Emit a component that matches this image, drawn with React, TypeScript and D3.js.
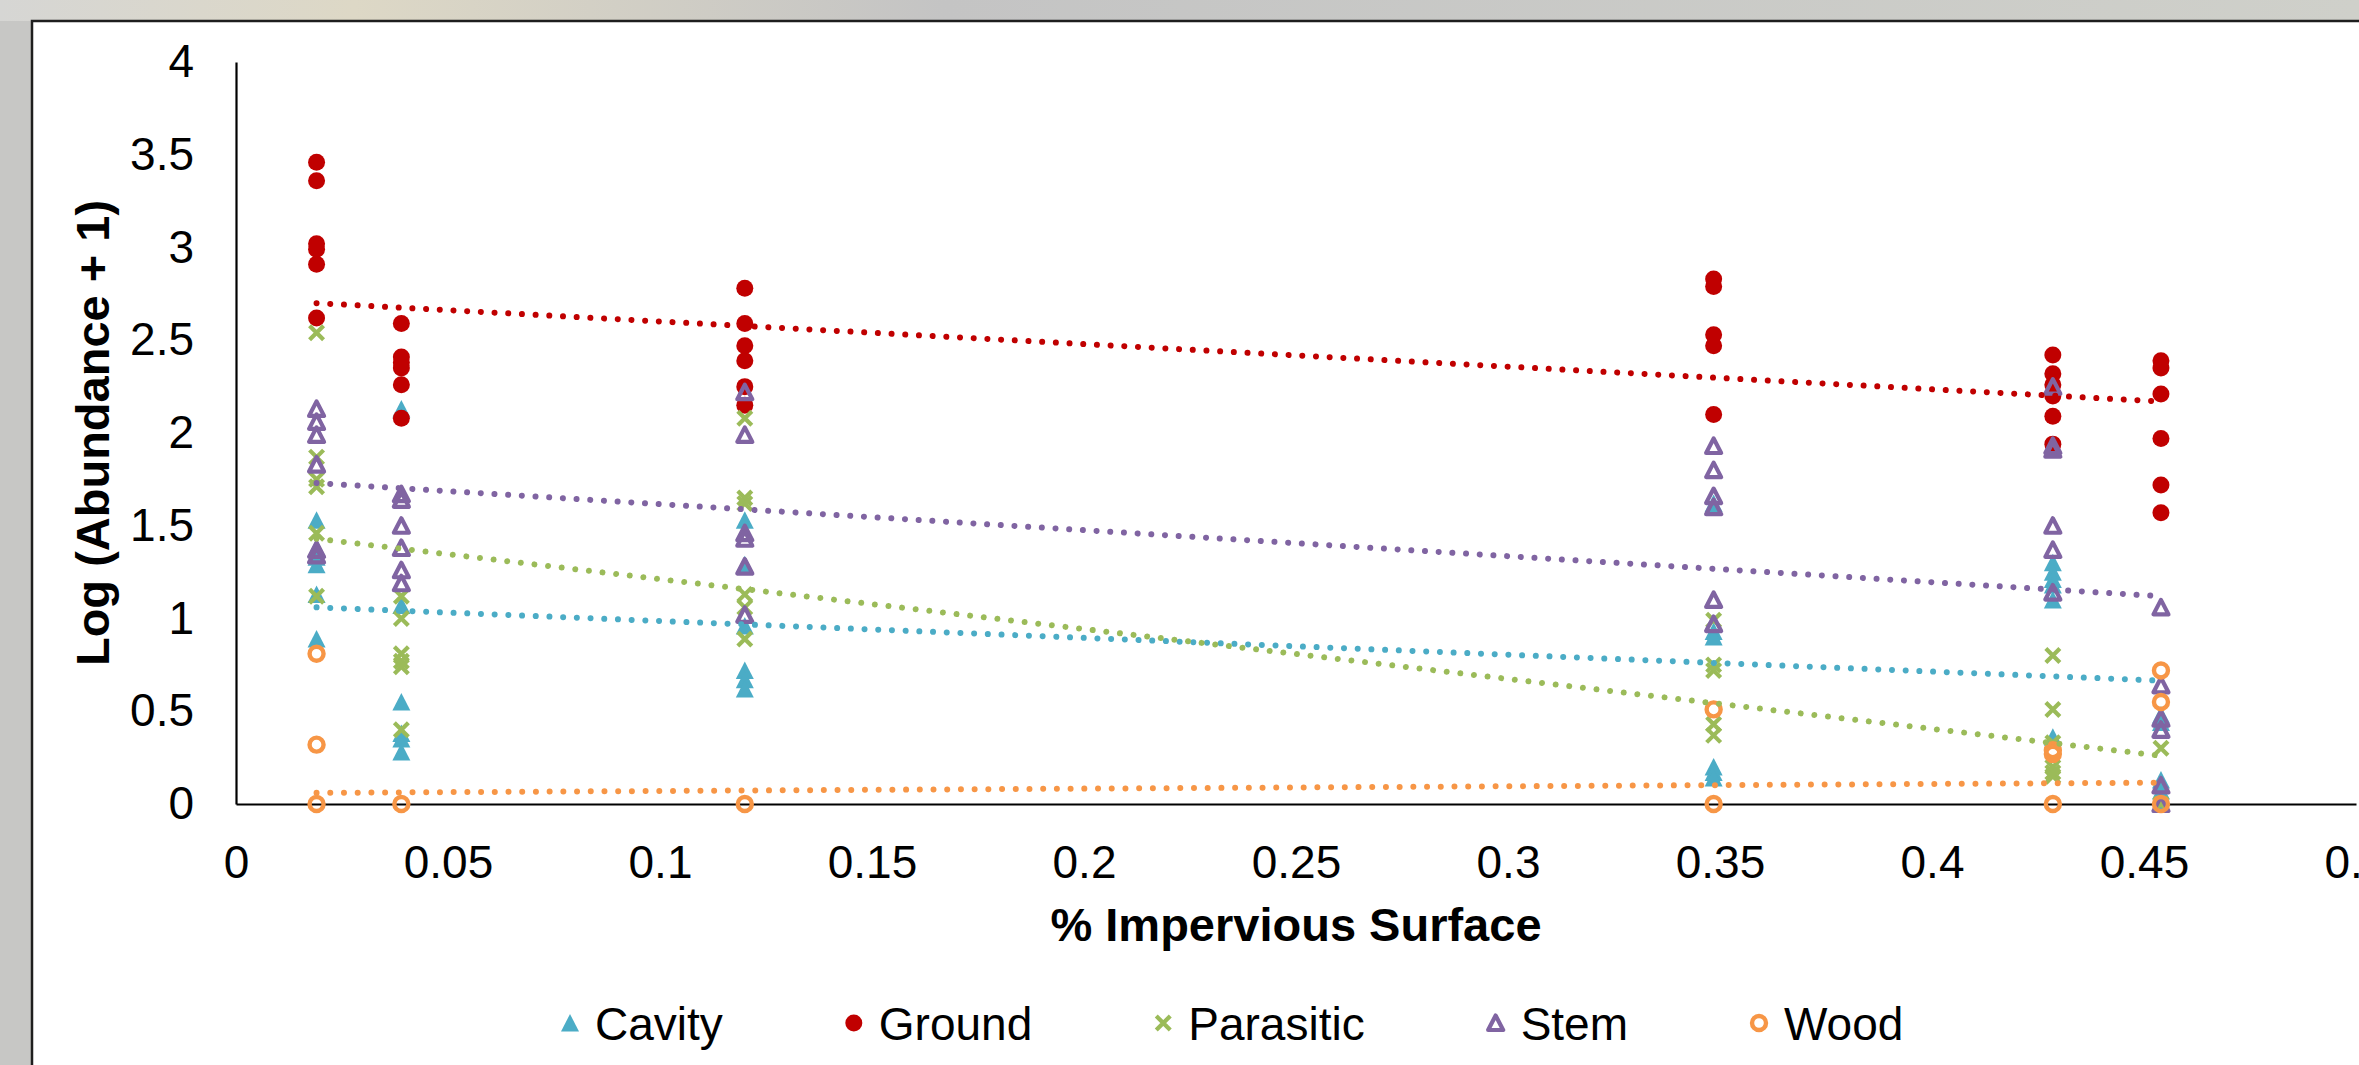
import { useEffect, useRef } from 'react';
import * as d3 from 'd3';

// x positions of the six sites (% impervious surface)
const sites = [0.019, 0.039, 0.12, 0.3485, 0.4285, 0.454];

// log(abundance + 1) per site, one inner array per site
const cavity = [
  [1.53, 1.38, 1.33, 1.29, 1.13, 0.89],
  [2.13, 1.07, 0.55, 0.38, 0.35, 0.28],
  [1.53, 1.29, 0.96, 0.72, 0.67, 0.62],
  [1.62, 0.93, 0.9, 0.2, 0.17, 0.14],
  [1.3, 1.25, 1.21, 1.18, 1.1, 0.36],
  [0.48, 0.44, 0.13, 0.1, 0.07, 0],
];
const ground = [
  [3.46, 3.36, 3.02, 2.99, 2.91, 2.62],
  [2.59, 2.41, 2.38, 2.35, 2.26, 2.08],
  [2.78, 2.59, 2.47, 2.39, 2.25, 2.15],
  [2.83, 2.79, 2.53, 2.47, 2.1],
  [2.42, 2.32, 2.26, 2.2, 2.09, 1.94],
  [2.39, 2.35, 2.21, 1.97, 1.72, 1.57],
];
const parasitic = [
  [2.54, 1.87, 1.75, 1.71, 1.46, 1.12],
  [1.12, 1.0, 0.81, 0.77, 0.74, 0.4],
  [2.08, 1.65, 1.62, 1.13, 1.06, 0.89],
  [0.99, 0.75, 0.72, 0.43, 0.37],
  [0.8, 0.51, 0.33, 0.2, 0.17, 0.15],
  [0.3, 0],
];
const stem = [
  [2.13, 2.06, 1.99, 1.83, 1.37, 1.34],
  [1.67, 1.64, 1.5, 1.38, 1.26, 1.19],
  [2.22, 1.99, 1.46, 1.43, 1.28, 1.02],
  [1.93, 1.8, 1.66, 1.6, 1.1, 0.97],
  [2.25, 1.93, 1.91, 1.5, 1.37, 1.14],
  [1.06, 0.64, 0.46, 0.4, 0.1, 0],
];
const wood = [
  [0.81, 0.32, 0],
  [0],
  [0],
  [0.51, 0],
  [0.29, 0.27, 0],
  [0.72, 0.55, 0],
];

// linear trendlines: value at first and last site
const trendX = [0.019, 0.454];
const cavityTrend = [1.06, 0.665];
const groundTrend = [2.7, 2.17];
const parasiticTrend = [1.43, 0.26];
const stemTrend = [1.73, 1.12];
const woodTrend = [0.06, 0.115];

const seriesNames = ['Cavity', 'Ground', 'Parasitic', 'Stem', 'Wood'];
const seriesColors = ['#4BACC6', '#C00000', '#9BBB59', '#8064A2', '#F79646'];

const xTicks = [0, 0.05, 0.1, 0.15, 0.2, 0.25, 0.3, 0.35, 0.4, 0.45, 0.5];
const yTicks = [0, 0.5, 1, 1.5, 2, 2.5, 3, 3.5, 4];

const W = 2359;
const H = 1065;
const FONT = '"Liberation Sans", Arial, sans-serif';

// marker drawing, centred on (cx, cy)
function drawMarker(g, kind, cx, cy, color) {
  if (kind === 'Cavity') {
    g.append('path')
      .attr('d', `M${cx},${cy - 9}L${cx + 9},${cy + 8.5}L${cx - 9},${cy + 8.5}Z`)
      .attr('fill', color);
  } else if (kind === 'Ground') {
    g.append('circle').attr('cx', cx).attr('cy', cy).attr('r', 8.5).attr('fill', color);
  } else if (kind === 'Parasitic') {
    const s = 7;
    g.append('path')
      .attr('d', `M${cx - s},${cy - s}L${cx + s},${cy + s}M${cx + s},${cy - s}L${cx - s},${cy + s}`)
      .attr('stroke', color)
      .attr('stroke-width', 4.2)
      .attr('fill', 'none');
  } else if (kind === 'Stem') {
    g.append('path')
      .attr('d', `M${cx},${cy - 7.5}L${cx + 7.5},${cy + 7}L${cx - 7.5},${cy + 7}Z`)
      .attr('stroke', color)
      .attr('stroke-width', 4.2)
      .attr('stroke-linejoin', 'round')
      .attr('fill', 'none');
  } else {
    g.append('circle')
      .attr('cx', cx)
      .attr('cy', cy)
      .attr('r', 7)
      .attr('fill', 'none')
      .attr('stroke', color)
      .attr('stroke-width', 4.4);
  }
}

const App = () => {
  const chartRef = useRef(null);

  useEffect(() => {
    const svg = d3.select(chartRef.current);
    svg.selectAll('*').remove();

    // backdrop (screenshot of a slide)
    const defs = svg.append('defs');
    const grad = defs.append('linearGradient').attr('id', 'topband').attr('x1', 0).attr('x2', 1);
    grad.append('stop').attr('offset', '0%').attr('stop-color', '#d6d6d4');
    grad.append('stop').attr('offset', '15%').attr('stop-color', '#ddd8c6');
    grad.append('stop').attr('offset', '40%').attr('stop-color', '#c4c4c4');
    grad.append('stop').attr('offset', '100%').attr('stop-color', '#cfd0ca');
    svg.append('rect').attr('width', W).attr('height', H).attr('fill', '#c7c7c5');
    svg.append('rect').attr('width', W).attr('height', 21).attr('fill', 'url(#topband)');
    svg.append('rect')
      .attr('x', 32)
      .attr('y', 21)
      .attr('width', W)
      .attr('height', H)
      .attr('fill', '#ffffff')
      .attr('stroke', '#1e1e1e')
      .attr('stroke-width', 2.5);

    const x = d3.scaleLinear().domain([0, 0.5]).range([236, 2356]);
    const y = d3.scaleLinear().domain([0, 4]).range([804, 62]);
    const fmt = (d) => String(+d.toFixed(2));

    // axes: lines only, no tick marks
    const yAxis = svg.append('g')
      .attr('transform', `translate(${x(0)},0)`)
      .call(d3.axisLeft(y).tickValues(yTicks).tickSize(0).tickSizeOuter(0).tickPadding(42).tickFormat(fmt));
    const xAxis = svg.append('g')
      .attr('transform', `translate(0,${y(0)})`)
      .call(d3.axisBottom(x).tickValues(xTicks).tickSize(0).tickSizeOuter(0).tickPadding(41).tickFormat(fmt));
    [yAxis, xAxis].forEach((a) => {
      a.select('.domain').attr('stroke', '#000').attr('stroke-width', 2.2);
      a.selectAll('text').attr('font-family', FONT).attr('font-size', 46).attr('fill', '#000');
    });

    // axis titles
    svg.append('text')
      .attr('transform', `translate(109,${(y(0) + y(4)) / 2}) rotate(-90)`)
      .attr('text-anchor', 'middle')
      .attr('font-family', FONT)
      .attr('font-size', 47)
      .attr('font-weight', 'bold')
      .text('Log (Abundance + 1)');
    svg.append('text')
      .attr('x', (x(0) + x(0.5)) / 2)
      .attr('y', 941)
      .attr('text-anchor', 'middle')
      .attr('font-family', FONT)
      .attr('font-size', 47)
      .attr('font-weight', 'bold')
      .text('% Impervious Surface');

    const allSeries = [cavity, ground, parasitic, stem, wood];
    const allTrends = [cavityTrend, groundTrend, parasiticTrend, stemTrend, woodTrend];

    // markers
    allSeries.forEach((series, si) => {
      const g = svg.append('g').attr('class', `series-${seriesNames[si]}`);
      series.forEach((vals, i) => {
        vals.forEach((v) => drawMarker(g, seriesNames[si], x(sites[i]), y(v), seriesColors[si]));
      });
    });

    // dotted trendlines
    const line = d3.line().x((d) => x(d[0])).y((d) => y(d[1]));
    allTrends.forEach((t, si) => {
      svg.append('path')
        .attr('d', line(trendX.map((xv, k) => [xv, t[k]])))
        .attr('fill', 'none')
        .attr('stroke', seriesColors[si])
        .attr('stroke-width', 6)
        .attr('stroke-linecap', 'round')
        .attr('stroke-dasharray', '0.01 13.7');
    });

    // legend
    const legend = svg.append('g');
    let lx = 570;
    seriesNames.forEach((name, si) => {
      drawMarker(legend, name, lx, 1023, seriesColors[si]);
      const t = legend.append('text')
        .attr('x', lx + 25)
        .attr('y', 1040)
        .attr('font-family', FONT)
        .attr('font-size', 46)
        .attr('fill', '#000')
        .text(name);
      lx += 25 + t.node().getComputedTextLength() + 131;
    });

    return () => d3.select(chartRef.current).selectAll('*').remove();
  }, []);

  return (
    <div style={{ position: 'fixed', left: 0, top: 0, width: W, height: H, overflow: 'hidden' }}>
      <svg ref={chartRef} width={W} height={H} style={{ display: 'block' }}></svg>
    </div>
  );
};

export default App;
